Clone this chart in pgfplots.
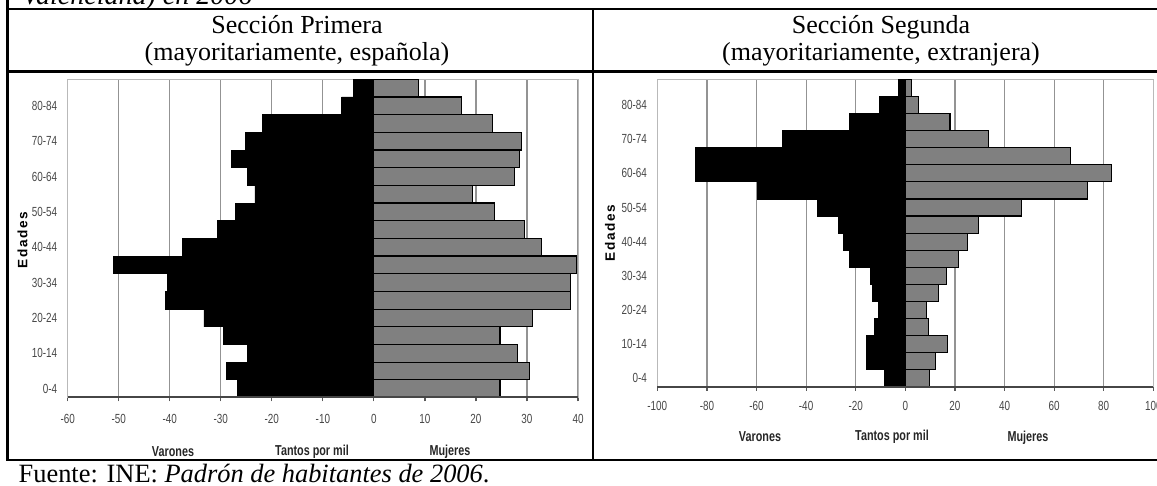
\documentclass[border=0pt]{standalone}
\usepackage{fontspec}
\setmainfont{Liberation Serif}
\newfontfamily\narrowfont[FakeStretch=0.75]{Liberation Sans}
\newfontfamily\edfont[LetterSpace=12]{Liberation Sans}
\usepackage{pgfplots}
\pgfplotsset{compat=1.18}
\definecolor{fem}{HTML}{808080}
\pgfplotsset{pyr/.style={
  scale only axis, anchor=south west, clip=false,
  ymin=-0.5, ymax=17.5,
  ytick={0,2,...,16},
  yticklabels={0-4,10-14,20-24,30-34,40-44,50-54,60-64,70-74,80-84},
  xmajorgrids, grid style={gray!85, line width=0.6pt},
  axis line style={gray!55, line width=0.5pt},
  ytick style={draw=none},
  xtick pos=left, tick align=outside, major tick length=2pt,
  xtick style={gray!70!black, line width=0.6pt},
  ticklabel style={font=\narrowfont\fontsize{6.6}{7}\selectfont, text=black!72},
  yticklabel style={xshift=0.3pt},
}}
\begin{document}
\begin{tikzpicture}
\useasboundingbox (0,0) rectangle (578.5pt,243pt);
\clip (0,0) rectangle (578.5pt,243pt);
% table frame
\draw[line width=1.2pt] (3.65pt,243pt) -- (3.65pt,13pt);
\draw[line width=1.2pt] (3.05pt,238.5pt) -- (578.5pt,238.5pt);
\draw[line width=1.2pt] (3.05pt,207.15pt) -- (578.5pt,207.15pt);
\draw[line width=1.2pt] (3.05pt,13pt) -- (578.5pt,13pt);
\draw[line width=1.2pt] (296.5pt,238.5pt) -- (296.5pt,13pt);
% texts
\node[anchor=base west, inner sep=0] at (10.85pt,240.6pt) {\fontsize{14}{16}\selectfont\itshape Valenciana) en 2006};
\node[anchor=base, inner sep=0] at (148.5pt,226.25pt) {\fontsize{13}{15}\selectfont Sección Primera};
\node[anchor=base, inner sep=0] at (148.5pt,212.5pt) {\fontsize{13}{15}\selectfont (mayoritariamente, española)};
\node[anchor=base, inner sep=0] at (440.5pt,226.25pt) {\fontsize{13}{15}\selectfont Sección Segunda};
\node[anchor=base, inner sep=0] at (440.5pt,212.5pt) {\fontsize{13}{15}\selectfont (mayoritariamente, extranjera)};
\node[anchor=base west, inner sep=0] at (9.15pt,1.9pt) {\fontsize{13.2}{15}\selectfont Fuente: INE: \textit{Padrón de habitantes de 2006}.};
% Edades labels
\node[rotate=90, inner sep=0] at (11.25pt,123pt) {\edfont\bfseries\fontsize{6.8}{7}\selectfont Edades};
\node[rotate=90, inner sep=0] at (305pt,126.5pt) {\edfont\bfseries\fontsize{6.8}{7}\selectfont Edades};
% bottom labels
\node[inner sep=0, text=black!85] at (86.5pt,17pt) {\narrowfont\bfseries\fontsize{7.2}{8}\selectfont Varones};
\node[inner sep=0, text=black!85] at (156pt,17pt) {\narrowfont\bfseries\fontsize{7.2}{8}\selectfont Tantos por mil};
\node[inner sep=0, text=black!85] at (225pt,17pt) {\narrowfont\bfseries\fontsize{7.2}{8}\selectfont Mujeres};
\node[inner sep=0, text=black!85] at (380pt,24.5pt) {\narrowfont\bfseries\fontsize{7.2}{8}\selectfont Varones};
\node[inner sep=0, text=black!85] at (446pt,24.5pt) {\narrowfont\bfseries\fontsize{7.2}{8}\selectfont Tantos por mil};
\node[inner sep=0, text=black!85] at (514pt,24pt) {\narrowfont\bfseries\fontsize{7.2}{8}\selectfont Mujeres};

% left pyramid
\begin{axis}[pyr, at={(33.85pt,44.25pt)}, width=255.15pt, height=159.1pt,
  xmin=-60, xmax=40, xtick={-60,-50,...,40},
  xticklabels={-60,-50,-40,-30,-20,-10,0,10,20,30,40},
  xticklabel style={yshift=-3pt}]
\addplot[xbar, bar width=1, bar shift=0, fill=black, draw=black] coordinates {
(-26.8,0) (-28.9,1) (-24.7,2) (-29.5,3) (-33.3,4) (-40.9,5) (-40.4,6) (-51.1,7) (-37.6,8)
(-30.6,9) (-27.2,10) (-23.3,11) (-24.7,12) (-27.9,13) (-25.1,14) (-21.9,15) (-6.3,16) (-4.0,17)};
\addplot[xbar, bar width=1, bar shift=0, fill=fem, draw=black, line width=0.6pt] coordinates {
(24.7,0) (30.5,1) (28.1,2) (24.7,3) (31.1,4) (38.6,5) (38.6,6) (39.7,7) (32.9,8)
(29.5,9) (23.7,10) (19.4,11) (27.5,12) (28.5,13) (29.0,14) (23.2,15) (17.2,16) (8.8,17)};
\draw[gray!55!black, line width=1pt] (rel axis cs:0,0) -- (rel axis cs:1,0);
\end{axis}

% right pyramid
\begin{axis}[pyr, at={(328.65pt,49.5pt)}, width=248pt, height=153.85pt,
  xmin=-100, xmax=100, xtick={-100,-80,...,100},
  xticklabels={-100,-80,-60,-40,-20,0,20,40,60,80,100},
  xticklabel style={yshift=-1.7pt}]
\addplot[xbar, bar width=1, bar shift=0, fill=black, draw=black] coordinates {
(-8.3,0) (-15.8,1) (-15.8,2) (-12.5,3) (-10.8,4) (-13.3,5) (-14.1,6) (-22.4,7) (-24.9,8)
(-27.1,9) (-35.4,10) (-59.8,11) (-84.7,12) (-84.7,13) (-49.7,14) (-22.4,15) (-10.5,16) (-2.7,17)};
\addplot[xbar, bar width=1, bar shift=0, fill=fem, draw=black, line width=0.6pt] coordinates {
(9.8,0) (12.3,1) (16.9,2) (9.3,3) (8.7,4) (13.3,5) (16.5,6) (21.6,7) (25.1,8)
(29.5,9) (46.7,10) (73.4,11) (83.1,12) (66.7,13) (33.6,14) (18.0,15) (5.4,16) (2.6,17)};
\draw[gray!55!black, line width=1pt] (rel axis cs:0,0) -- (rel axis cs:1,0);
\end{axis}
\end{tikzpicture}
\end{document}
